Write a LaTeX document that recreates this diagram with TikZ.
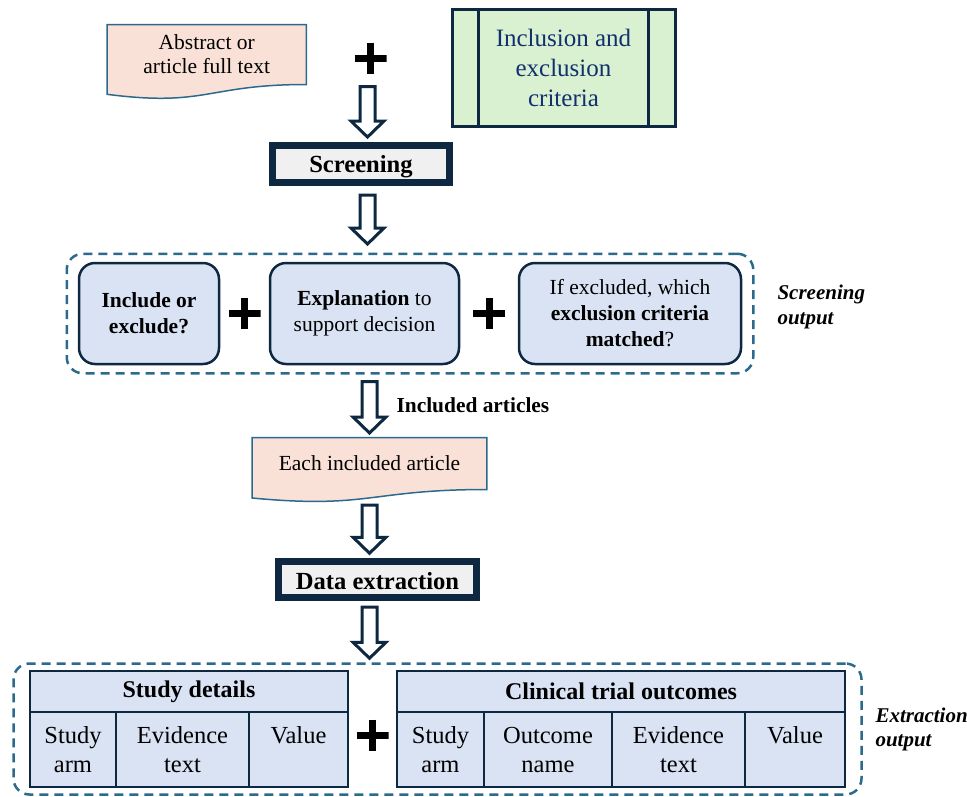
\documentclass[tikz,border=0pt]{standalone}
\usepackage{fontspec}
\setmainfont{Liberation Serif}
\usetikzlibrary{positioning,calc,fit,backgrounds}

\definecolor{navy}{HTML}{0E2841}
\definecolor{edgeblue}{HTML}{2B6A8C}
\definecolor{docpink}{HTML}{FAE1D7}
\definecolor{critgreen}{HTML}{D9F1D1}
\definecolor{critnavy}{HTML}{13306E}
\definecolor{boxblue}{HTML}{DAE3F3}
\definecolor{stagegrey}{HTML}{F0F0F0}

\tikzset{
  docbox/.style={inner sep=0pt, align=center, font=\fontsize{21.5}{24}\selectfont},
  docline/.style={draw=edgeblue, fill=docpink, line width=1.5pt},
  critbox/.style={draw=navy, fill=critgreen, line width=3pt, align=center, text=critnavy, font=\fontsize{25}{30}\selectfont},
  critline/.style={draw=navy, line width=3pt},
  stagebox/.style={draw=navy, fill=stagegrey, line width=7pt, inner sep=0pt, font=\fontsize{24.6}{28}\selectfont\bfseries},
  outbox/.style={draw=navy, fill=boxblue, line width=2.5pt, rounded corners=16pt, align=center, minimum height=101pt, inner sep=0pt, font=\fontsize{21.5}{26}\selectfont},
  groupbox/.style={draw=edgeblue, line width=2.5pt, dash pattern=on 9pt off 6pt, rounded corners=16pt},
  plussign/.style={minimum width=32pt, minimum height=31pt, inner sep=0pt,
    path picture={\draw[line width=7pt] (path picture bounding box.north) -- (path picture bounding box.south)
      (path picture bounding box.west) -- (path picture bounding box.east);}},
  sidelabel/.style={align=left, anchor=west, font=\fontsize{21}{24.5}\selectfont\bfseries\itshape},
  blockarr/.style={draw=navy, fill=white, line width=3pt, line join=miter},
  thead/.style={draw=navy, fill=boxblue, line width=2.5pt, outer sep=0pt, minimum height=41pt, inner sep=0pt, anchor=north west, font=\fontsize{24}{29}\selectfont\bfseries},
  tcell/.style={draw=navy, fill=boxblue, line width=2.5pt, outer sep=0pt, minimum height=75pt, inner sep=0pt, anchor=north west, align=center, font=\fontsize{24.5}{29}\selectfont},
}

% hollow block arrow: from, to, gap at start, gap at end
\newcommand{\blockarr}[4]{%
  \draw[blockarr] let \p1=(#1), \p2=(#2) in
    (\x1-7.5pt,\y1-#3pt) -- (\x1+7.5pt,\y1-#3pt) -- (\x1+7.5pt,\y2+#4pt+16pt)
    -- (\x1+16.5pt,\y2+#4pt+16pt) -- (\x1,\y2+#4pt) -- (\x1-16.5pt,\y2+#4pt+16pt)
    -- (\x1-7.5pt,\y2+#4pt+16pt) -- cycle;}

% document outline with a wavy bottom
\newcommand{\docoutline}[3]{%
  \draw[docline] (#1.north west) -- (#1.north east) -- (#1.south east)
    .. controls (#1.south) and ($(#1.south)+(0,#2)$) .. ($(#1.south west)+(0,#3)$) -- cycle;}

\begin{document}
\begin{tikzpicture}[x=1pt,y=-1pt]
\useasboundingbox (0,0) rectangle (967,796);

% inputs
\node (abs) [docbox, minimum width=199pt, minimum height=59.6pt] at (206.7,54.5) {Abstract or\\article full text};
\node (plus1) [plussign] at (370.5,58) {};
\node (crit) [critbox, minimum width=223pt, minimum height=117pt] at (563.5,67.5) {Inclusion and\\exclusion\\criteria};
\draw[critline] ($(crit.north west)+(28,0)$) -- ($(crit.south west)+(28,0)$);
\draw[critline] ($(crit.north east)+(-28,0)$) -- ($(crit.south east)+(-28,0)$);

\node (screen) [stagebox, minimum width=177pt, minimum height=37.3pt] at (361,163.9) {\raisebox{-3pt}[\height][\depth]{Screening}};

% screening output
\node (out1) [outbox, minimum width=140pt] at (149,313.5) {\textbf{Include or}\\\textbf{exclude?}};
\node (out2) [outbox, minimum width=189pt] at (364.5,313.5) {\textbf{Explanation} to\\support decision};
\node (out3) [outbox, minimum width=222pt] at (630,313.5) {If excluded, which\\\textbf{exclusion criteria}\\\textbf{matched}?};
\node (plus2) [plussign] at ($(out1.east)!0.5!(out2.west)$) {};
\node (plus3) [plussign] at ($(out2.east)!0.5!(out3.west)$) {};
\node (scrgroup) [groupbox, fit=(out1)(out3), inner xsep=11pt, inner ysep=8pt] {};
\node (scrlabel) [sidelabel] at (774,307) {Screening\\output};

\node (inclabel) [anchor=west, font=\fontsize{21.4}{24}\selectfont\bfseries] at (393,405) {Included articles};
\node (each) [docbox, minimum width=234.4pt, minimum height=51.6pt] at (369.5,463.5) {Each included article};

\node (dext) [stagebox, minimum width=198pt, minimum height=36.3pt] at (377.5,579.4) {\raisebox{-2pt}[\height][\depth]{Data extraction}};

% extraction output
\node (sd) [thead, minimum width=318pt] at (30,671) {Study details};
\node (sd1) [tcell, minimum width=86pt] at (sd.south west) {Study\\arm};
\node (sd2) [tcell, minimum width=133pt] at (sd1.north east) {Evidence\\text};
\node (sd3) [tcell, minimum width=99pt] at (sd2.north east) {Value\\\mbox{}};
\node (ct) [thead, minimum width=448pt] at (397,671) {Clinical trial outcomes};
\node (ct1) [tcell, minimum width=87pt] at (ct.south west) {Study\\arm};
\node (ct2) [tcell, minimum width=128pt] at (ct1.north east) {Outcome\\name};
\node (ct3) [tcell, minimum width=133pt] at (ct2.north east) {Evidence\\text};
\node (ct4) [tcell, minimum width=100pt] at (ct3.north east) {Value\\\mbox{}};
\node (plus4) [plussign] at (372.5,735) {};
\node (extgroup) [groupbox, fit=(sd)(sd1)(ct4), inner xsep=16.5pt, inner ysep=7.5pt] {};
\node (extlabel) [sidelabel] at (872,729.5) {Extraction\\output};

% arrows
\coordinate (in1) at (367.5,86.7);
\blockarr{in1}{screen.north}{0}{4.7}
\blockarr{[xshift=6.5pt]screen.south}{scrgroup.north}{9}{8.5}
\blockarr{each.north|-scrgroup.south}{each.north}{7}{4.5}
\blockarr{each.south}{dext.north}{15.5}{4.5}
\blockarr{[xshift=-8pt]dext.south}{extgroup.north}{6}{4}

\begin{pgfonlayer}{background}
  \docoutline{abs}{22.7}{9.8}
  \docoutline{each}{19.6}{8.5}
\end{pgfonlayer}
\end{tikzpicture}
\end{document}
